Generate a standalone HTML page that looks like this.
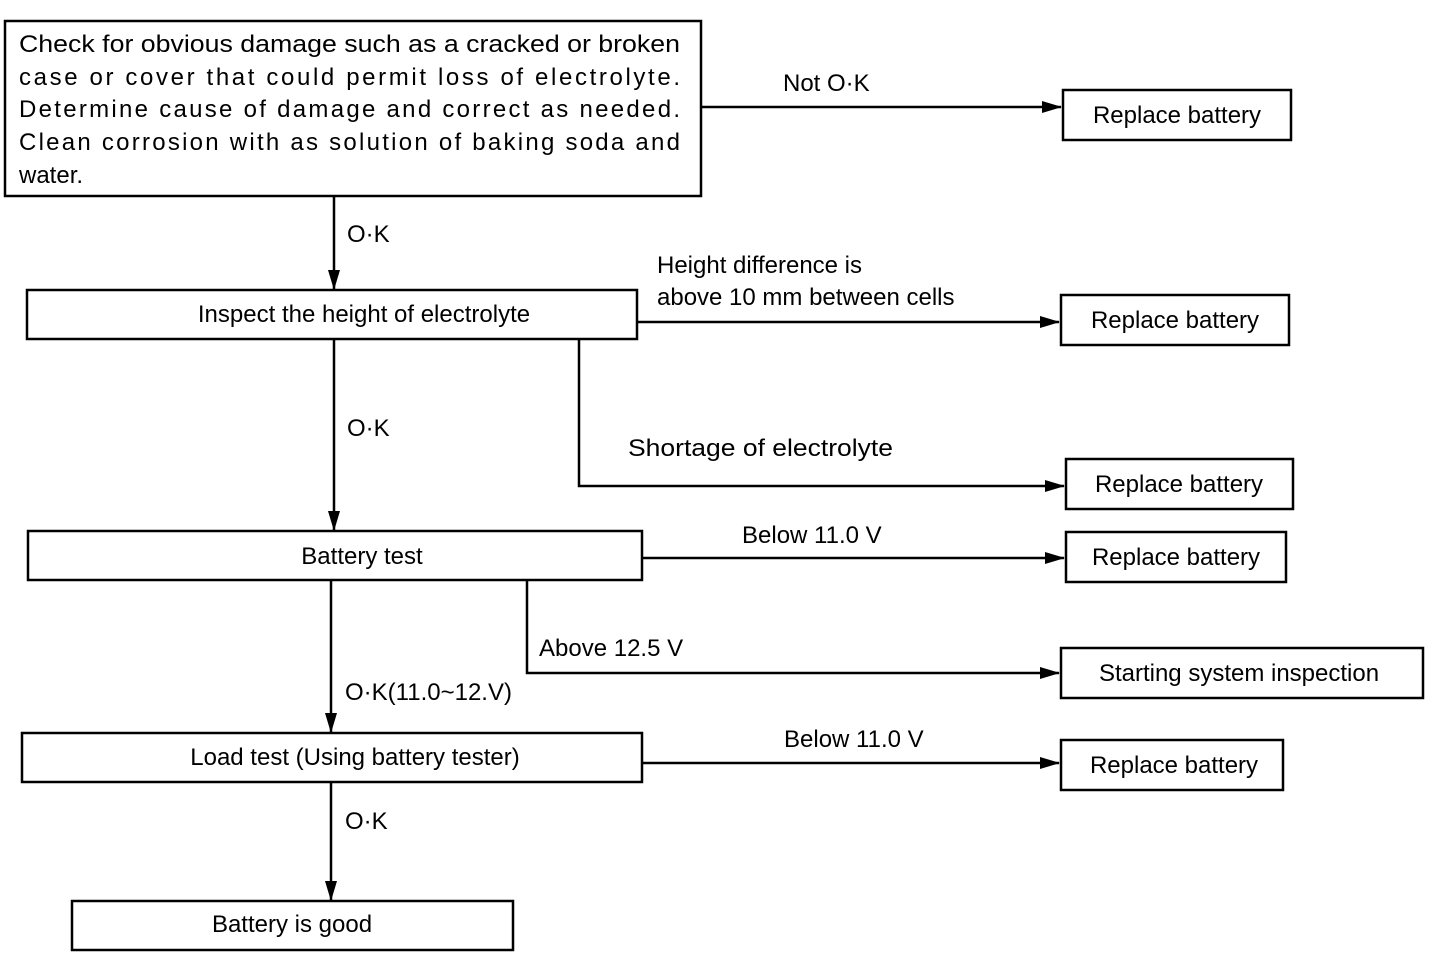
<!DOCTYPE html>
<html><head><meta charset="utf-8"><style>
html,body{margin:0;padding:0;background:#fff}
svg{display:block}
text{font-family:"Liberation Sans",Arial,sans-serif;font-size:24px;fill:#000}
</style></head><body>
<svg width="1456" height="972" viewBox="0 0 1456 972" xmlns="http://www.w3.org/2000/svg">
<defs><marker id="a" markerWidth="20" markerHeight="12" refX="19" refY="6" orient="auto" markerUnits="userSpaceOnUse"><path d="M0,0 L20,6 L0,12 Z" fill="#000"/></marker></defs>
<g fill="none" stroke="#000" stroke-width="2.5">
<rect x="5" y="21" width="696" height="175"/>
<rect x="1063" y="90" width="228" height="50"/>
<rect x="27" y="290" width="610" height="49"/>
<rect x="1061" y="295" width="228" height="50"/>
<rect x="1066" y="459" width="227" height="50"/>
<rect x="28" y="531" width="614" height="49"/>
<rect x="1066" y="532" width="220" height="50"/>
<rect x="1061" y="648" width="362" height="50"/>
<rect x="22" y="733" width="620" height="49"/>
<rect x="1061" y="740" width="222" height="50"/>
<rect x="72" y="901" width="441" height="49"/>
<path d="M701,107 H1061" marker-end="url(#a)"/>
<path d="M334,196 V289" marker-end="url(#a)"/>
<path d="M637,322 H1059" marker-end="url(#a)"/>
<path d="M579,339 V486 H1064" marker-end="url(#a)"/>
<path d="M334,339 V530" marker-end="url(#a)"/>
<path d="M642,558 H1064" marker-end="url(#a)"/>
<path d="M527,580 V673 H1059" marker-end="url(#a)"/>
<path d="M331,580 V732" marker-end="url(#a)"/>
<path d="M642,763 H1059" marker-end="url(#a)"/>
<path d="M331,782 V900" marker-end="url(#a)"/>
</g>
<text x="19" y="52" textLength="661" lengthAdjust="spacingAndGlyphs">Check for obvious damage such as a cracked or broken</text>
<text x="19" y="85" textLength="661" lengthAdjust="spacing">case or cover that could permit loss of electrolyte.</text>
<text x="19" y="117" textLength="661" lengthAdjust="spacing">Determine cause of damage and correct as needed.</text>
<text x="19" y="150" textLength="661" lengthAdjust="spacing">Clean corrosion with as solution of baking soda and</text>
<text x="19" y="183">water.</text>
<text x="1177" y="123" text-anchor="middle">Replace battery</text>
<text x="1175" y="328" text-anchor="middle">Replace battery</text>
<text x="1179" y="492" text-anchor="middle">Replace battery</text>
<text x="1176" y="565" text-anchor="middle">Replace battery</text>
<text x="1174" y="773" text-anchor="middle">Replace battery</text>
<text x="1239" y="681" text-anchor="middle">Starting system inspection</text>
<text x="364" y="322" text-anchor="middle">Inspect the height of electrolyte</text>
<text x="362" y="564" text-anchor="middle">Battery test</text>
<text x="355" y="765" text-anchor="middle">Load test (Using battery tester)</text>
<text x="292" y="932" text-anchor="middle">Battery is good</text>
<text x="783" y="91">Not O·K</text>
<text x="347" y="242">O·K</text>
<text x="657" y="273">Height difference is</text>
<text x="657" y="305">above 10 mm between cells</text>
<text x="628" y="456" textLength="265" lengthAdjust="spacingAndGlyphs">Shortage of electrolyte</text>
<text x="347" y="436">O·K</text>
<text x="742" y="543">Below 11.0 V</text>
<text x="539" y="656">Above 12.5 V</text>
<text x="345" y="700">O·K(11.0~12.V)</text>
<text x="784" y="747">Below 11.0 V</text>
<text x="345" y="829">O·K</text>
</svg>
</body></html>
